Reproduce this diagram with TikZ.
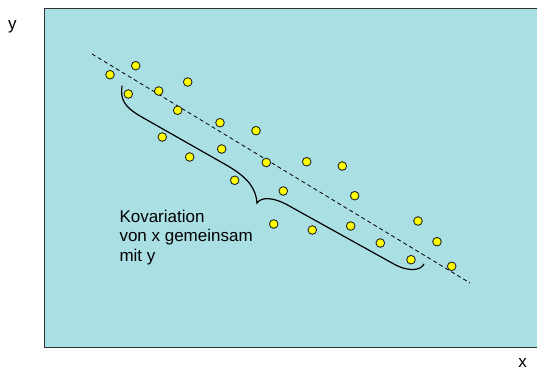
\documentclass[tikz,border=0pt]{standalone}
\usepackage{fontspec}
\setmainfont{Liberation Sans}
\definecolor{bgcyan}{RGB}{170,224,228}
\definecolor{dotyellow}{RGB}{255,255,0}
\begin{document}
\begin{tikzpicture}[x=1pt,y=-1pt,
  pt/.style={circle,draw=black!85,fill=dotyellow,line width=0.9pt,minimum size=8.6pt,inner sep=0pt},
  lbl/.style={font=\fontsize{17}{19.5}\selectfont,inner sep=0pt},
  frame/.style={draw=black!80,line width=1.3pt},
  trend/.style={dashed,dash pattern=on 4pt off 3pt,line width=0.8pt},
  bracepath/.style={line width=1.2pt,line cap=round}]
\useasboundingbox (0,0) rectangle (537,370);
\fill[bgcyan] (44.3,8.3) rectangle (537,347.3);
\coordinate (tl) at (44.3,8.3);
\coordinate (tr) at (537,8.3);
\coordinate (bl) at (44.3,347.3);
\coordinate (br) at (537,347.3);
\draw[frame] (tr) -- (tl) -- (bl) -- (br);
\node[lbl,anchor=base] (ylab) at (12.5,29.3) {y};
\node[lbl,anchor=base] (xlab) at (522.5,367.3) {x};
% trend line
\coordinate (ls) at (92,54);
\coordinate (le) at (470,283);
\draw[trend] (ls) -- (le);
% brace
\coordinate (b1) at (122,86);
\coordinate (b2) at (140,116);
\coordinate (b3) at (228,166);
\coordinate (tip) at (257,203);
\coordinate (b4) at (292,207.5);
\coordinate (b5) at (392,263);
\coordinate (b6) at (424,264);
\draw[bracepath] (b1) .. controls (120,100) and (125,107) .. (b2) -- (b3)
  .. controls (250,179) and (256,190) .. (tip)
  .. controls (261,197) and (273,196) .. (b4) -- (b5)
  .. controls (405,271) and (420,272) .. (b6);
% points
\node[pt] (p1) at (110,74.7) {};
\node[pt] (p2) at (135.7,65.7) {};
\node[pt] (p3) at (128.3,94) {};
\node[pt] (p4) at (158.7,91) {};
\node[pt] (p5) at (187.7,82) {};
\node[pt] (p6) at (177.7,110.3) {};
\node[pt] (p7) at (220,122.7) {};
\node[pt] (p8) at (256,130.7) {};
\node[pt] (p9) at (162.3,137) {};
\node[pt] (p10) at (221.7,149) {};
\node[pt] (p11) at (189.7,157) {};
\node[pt] (p12) at (266.3,162.5) {};
\node[pt] (p13) at (234.7,180.3) {};
\node[pt] (p14) at (306.7,161.7) {};
\node[pt] (p15) at (342.3,166) {};
\node[pt] (p16) at (283.3,191) {};
\node[pt] (p17) at (354.7,195.7) {};
\node[pt] (p18) at (273.7,224) {};
\node[pt] (p19) at (312.3,230) {};
\node[pt] (p20) at (350.7,226) {};
\node[pt] (p21) at (418,221) {};
\node[pt] (p22) at (380.3,243) {};
\node[pt] (p23) at (437,241.7) {};
\node[pt] (p24) at (411,259.7) {};
\node[pt] (p25) at (451.7,266.3) {};
% label
\node[lbl,anchor=north west,align=left] (cov) at (119.3,209.5) {Kovariation\\von x gemeinsam\\mit y};
\end{tikzpicture}
\end{document}
